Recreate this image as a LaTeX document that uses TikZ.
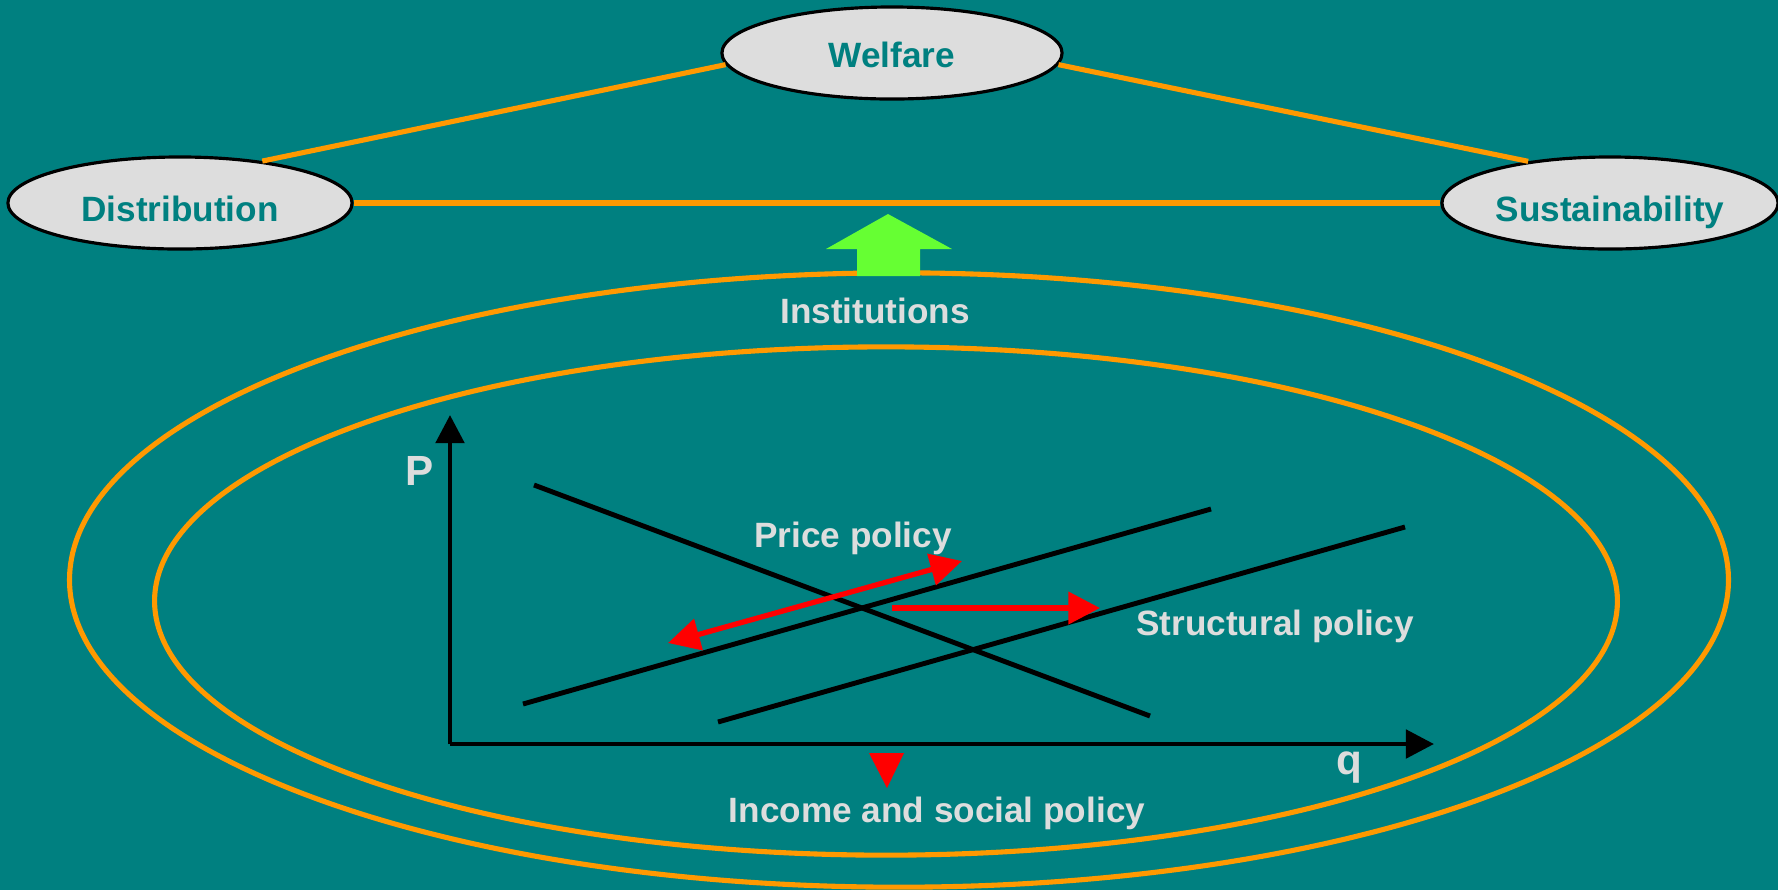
\documentclass[tikz,border=0pt]{standalone}
\usepackage{fontspec}
\setmainfont{Liberation Sans}
\usetikzlibrary{shapes.geometric}
\usetikzlibrary{arrows.meta}
\definecolor{bgteal}{RGB}{0,128,128}
\definecolor{lgrey}{RGB}{221,221,221}
\definecolor{orng}{RGB}{255,153,0}
\definecolor{lgreen}{RGB}{102,255,51}

\begin{document}
\begin{tikzpicture}[x=0.01cm, y=-0.01cm,
  goal/.style={ellipse, draw=black, line width=0.9pt, fill=lgrey, minimum width=3.4cm,
    minimum height=0.92cm, inner sep=0pt, text=bgteal, font=\bfseries,
    text height=10.3pt, text depth=0pt},
  lbl/.style={text=lgrey, font=\bfseries},
  link/.style={orng, line width=1.45pt},
  curve/.style={black, line width=1.4pt},
  policyarrow/.style={red, line width=1.5pt}]
  \fill[bgteal] (0,0) rectangle (1778,890);
  \useasboundingbox (0,0) rectangle (1778,890);

  % policy goals
  \node[goal, text height=8.3pt] (welf) at (892,53) {Welfare};
  \node[goal, minimum width=3.44cm] (dist) at (180,203) {Distribution};
  \node[goal, minimum width=3.36cm] (sust) at (1610,203) {Sustainability};
  \draw[link] (dist.27) -- (welf.184);
  \draw[link] (welf.-4) -- (sust.153);
  \draw[link] (dist) -- (sust);

  % institutional frame
  \draw[link] (899,580) ellipse [x radius=8.29cm, y radius=3.07cm];
  \draw[link] (886,601) ellipse [x radius=7.31cm, y radius=2.54cm];
  \fill[lgreen] (857,276) -- (857,249) -- (826,249) -- (888,214) -- (952,249)
    -- (920,249) -- (920,276) -- cycle;
  \node[lbl] (inst) at (875,311) {Institutions};

  % market diagram
  \coordinate (O) at (450,744);
  \coordinate (ptop) at (450,415);
  \coordinate (qend) at (1434,744);
  \draw[curve, -{Triangle[length=8pt,width=8pt]}] (O) -- (ptop);
  \draw[curve, -{Triangle[length=8pt,width=8pt]}] (O) -- (qend);
  \node[lbl, font=\bfseries\large] (P) at (420,471) {P};
  \node[lbl, font=\bfseries\large] (q) at (1349,767) {q};

  \coordinate (d1) at (534,485);
  \coordinate (d2) at (1150,716);
  \coordinate (s1a) at (523,704);
  \coordinate (s1b) at (1211,509);
  \coordinate (s2a) at (718,722);
  \coordinate (s2b) at (1405,527);
  \draw[curve] (d1) -- (d2);
  \draw[curve] (s1a) -- (s1b);
  \draw[curve] (s2a) -- (s2b);

  % policy instruments
  \coordinate (pp1) at (668,643);
  \coordinate (pp2) at (962,561);
  \coordinate (sp1) at (892,608);
  \coordinate (sp2) at (1100,608);
  \draw[policyarrow, {Triangle[length=9pt,width=9pt]}-{Triangle[length=9pt,width=9pt]}] (pp1) -- (pp2);
  \draw[policyarrow, -{Triangle[length=9pt,width=9pt]}] (sp1) -- (sp2);
  \fill[red] (869,753) -- (904,753) -- (887,788) -- cycle;

  \node[lbl] (price) at (853,538) {Price policy};
  \node[lbl] (struct) at (1275,626) {Structural policy};
  \node[lbl] (income) at (937,813) {Income and social policy};
\end{tikzpicture}
\end{document}
